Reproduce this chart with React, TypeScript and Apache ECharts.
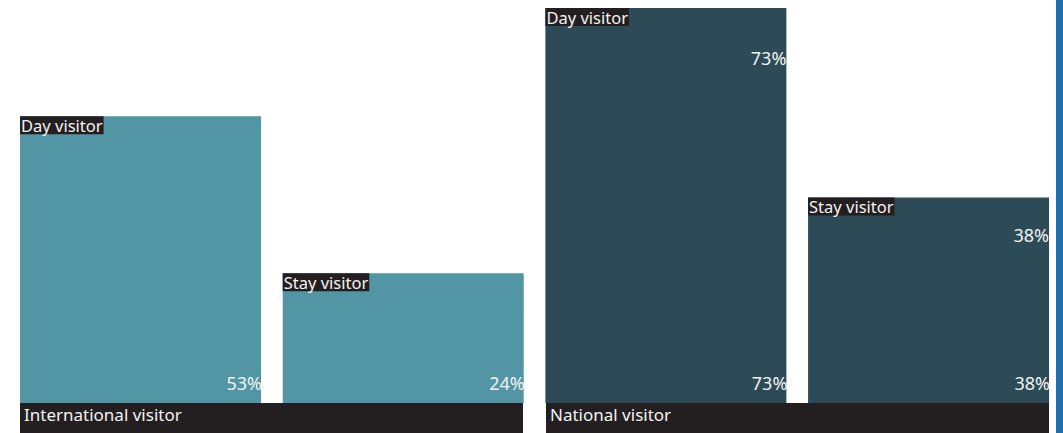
import React, { useEffect, useRef } from "react";
import * as echarts from "echarts";

// Visitor share by origin and length of stay (percent)
const groups = ["International visitor", "National visitor"];
const visitorTypes = ["Day visitor", "Stay visitor"];
const internationalShare = [53, 24];
const nationalShare = [73, 38];

const FONT = "'Noto Sans', 'Open Sans', sans-serif";
const TEAL = "#5295a4";
const SLATE = "#2c4b56";
const INK = "#231f20";

export default function App() {
  const ref = useRef<HTMLDivElement>(null);

  useEffect(() => {
    if (!ref.current) return;
    const chart = echarts.init(ref.current, null, { renderer: "svg" });

    const categories: string[] = [];
    const values: number[] = [];
    const colors: string[] = [];
    groups.forEach((g, gi) => {
      const shares = gi === 0 ? internationalShare : nationalShare;
      visitorTypes.forEach((t, ti) => {
        categories.push(`${g} · ${t}`);
        values.push(shares[ti]);
        colors.push(gi === 0 ? TEAL : SLATE);
      });
    });

    const BAR_W = 241;

    const bars = values.map((v, i) => ({ value: v, itemStyle: { color: colors[i] } }));
    const nameLabels = values.map((v, i) => ({
      value: v,
      label: { formatter: visitorTypes[i % visitorTypes.length] },
    }));
    // top value tags shown only on the national bars
    const topOffsets = [0, 0, 41, 29];
    const topLabels = values.map((v, i) =>
      i < visitorTypes.length
        ? { value: v, label: { show: false } }
        : { value: v, label: { show: true, offset: [0, topOffsets[i]] } }
    );

    chart.setOption({
      animation: false,
      grid: [
        { left: 9.2, right: 3.1, top: 0, bottom: 30 },
        { left: 8.5, right: 2.5, top: 403, height: 30 },
      ],
      xAxis: [
        { type: "category", gridIndex: 0, data: categories, show: false },
        { type: "category", gridIndex: 1, data: groups, show: false },
      ],
      yAxis: [
        { type: "value", gridIndex: 0, min: 0, max: 74.5, show: false },
        { type: "value", gridIndex: 1, min: 0, max: 1, show: false },
      ],
      series: [
        {
          type: "bar",
          xAxisIndex: 0,
          yAxisIndex: 0,
          barWidth: BAR_W,
          barGap: "-100%",
          data: bars,
          label: {
            show: true,
            position: "insideBottomRight",
            distance: 0,
            offset: [1, -11],
            formatter: "{c}%",
            color: "#f2f2f2",
            fontFamily: FONT,
            fontSize: 18,
          },
        },
        {
          type: "bar",
          xAxisIndex: 0,
          yAxisIndex: 0,
          barWidth: BAR_W,
          barGap: "-100%",
          data: nameLabels,
          itemStyle: { color: "transparent" },
          silent: true,
          label: {
            show: true,
            position: "insideTopLeft",
            distance: 0,
            color: "#f2f2f2",
            backgroundColor: INK,
            padding: [1, 1, 0, 1],
            fontFamily: FONT,
            fontSize: 16.5,
          },
        },
        {
          type: "bar",
          xAxisIndex: 0,
          yAxisIndex: 0,
          barWidth: BAR_W,
          barGap: "-100%",
          data: topLabels,
          itemStyle: { color: "transparent" },
          silent: true,
          label: {
            position: "insideTopRight",
            distance: 0,
            formatter: "{c}%",
            color: "#f2f2f2",
            fontFamily: FONT,
            fontSize: 18,
          },
        },
        {
          type: "bar",
          xAxisIndex: 1,
          yAxisIndex: 1,
          barWidth: 503,
          data: groups.map(() => 1),
          itemStyle: { color: INK },
          label: {
            show: true,
            position: "insideLeft",
            distance: 4,
            offset: [0, -3.5],
            formatter: (p: any) => p.name,
            color: "#f2f2f2",
            fontFamily: FONT,
            fontSize: 17,
          },
        },
      ],
      graphic: [
        {
          type: "rect",
          shape: { x: 1056, y: 0, width: 7, height: 433 },
          style: { fill: "#1f6ead" },
        },
      ],
    });

    return () => chart.dispose();
  }, []);

  return (
    <div
      ref={ref}
      style={{ position: "fixed", left: 0, top: 0, width: 1063, height: 433, background: "#fff" }}
    />
  );
}
